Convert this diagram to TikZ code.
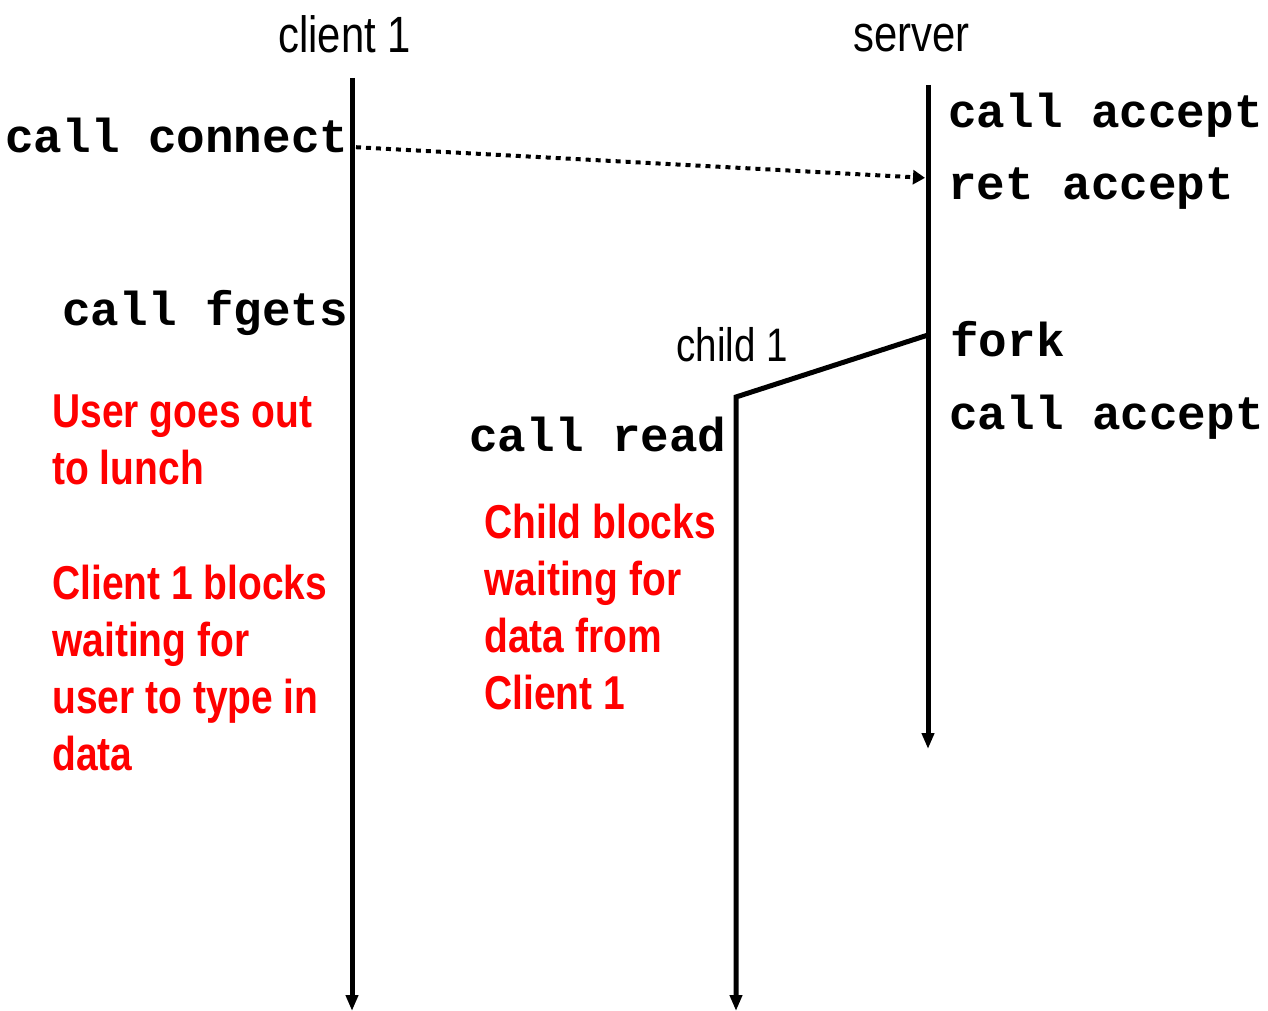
\documentclass[tikz,border=0pt]{standalone}
\usepackage{fontspec}
\usepackage{tikz}
\usetikzlibrary{arrows.meta}
\newfontfamily\narrowfont[FakeStretch=0.82]{Liberation Sans}
\newfontfamily\codefont{Liberation Mono}
\definecolor{notered}{RGB}{255,0,0}

\begin{document}
\begin{tikzpicture}[x=0.5pt,y=-0.5pt,
  every node/.style={inner sep=0pt, anchor=base west},
  lbl/.style={font=\narrowfont\fontsize{25.5}{30}\selectfont},
  code/.style={font=\codefont\bfseries\fontsize{23.8}{28}\selectfont},
  note/.style={font=\narrowfont\bfseries\fontsize{23.75}{28.5}\selectfont, text=notered, align=left},
  timeline/.style={line width=2.5pt, -{Triangle[length=8pt,width=6pt]}}]
\useasboundingbox (0,0) rectangle (1268,1011);
% process names
\node[lbl] (C1) at (278,53) {client 1};
\node[lbl] (S) at (853,52) {server};
\node[lbl, font=\narrowfont\fontsize{23.5}{28}\selectfont] (CH1) at (676,361) {child 1};
% time lines
\coordinate (C1top) at (352,78);
\coordinate (C1bot) at (352,1011);
\coordinate (Stop) at (928,85);
\coordinate (Sbot) at (928,749);
\coordinate (Sfork) at (928,335);
\coordinate (CH1top) at (736,397);
\coordinate (CH1bot) at (736,1011);
\draw[timeline] (C1top) -- (C1bot);
\draw[timeline] (Stop) -- (Sbot);
\draw[timeline] (Sfork) -- (CH1top) -- (CH1bot);
% calls
\node[code] (connect) at (5,152) {call connect};
\node[code] (accept1) at (948,127) {call accept};
\node[code] (ret) at (948,199) {ret accept};
\node[code] (fgets) at (62,325) {call fgets};
\node[code] (fork) at (950,356) {fork};
\node[code] (accept2) at (949,429) {call accept};
\node[code] (read) at (469,451) {call read};
% connection request
\coordinate (G1) at (352,147);
\coordinate (G2) at (928,178);
\draw[line width=2pt, dash pattern=on 2.5pt off 2.5pt, -{Triangle[length=6pt,width=7pt]}, shorten <=2pt, shorten >=1.5pt] (G1) -- (G2);
% notes (anchored at the last line)
\node[note] (lunch) at (52,484) {User goes out\\to lunch};
\node[note] (C1wait) at (52,770) {Client 1 blocks\\waiting for\\user to type in\\data};
\node[note] (CH1wait) at (484,709) {Child blocks\\waiting for\\data from\\Client 1};
\end{tikzpicture}
\end{document}
